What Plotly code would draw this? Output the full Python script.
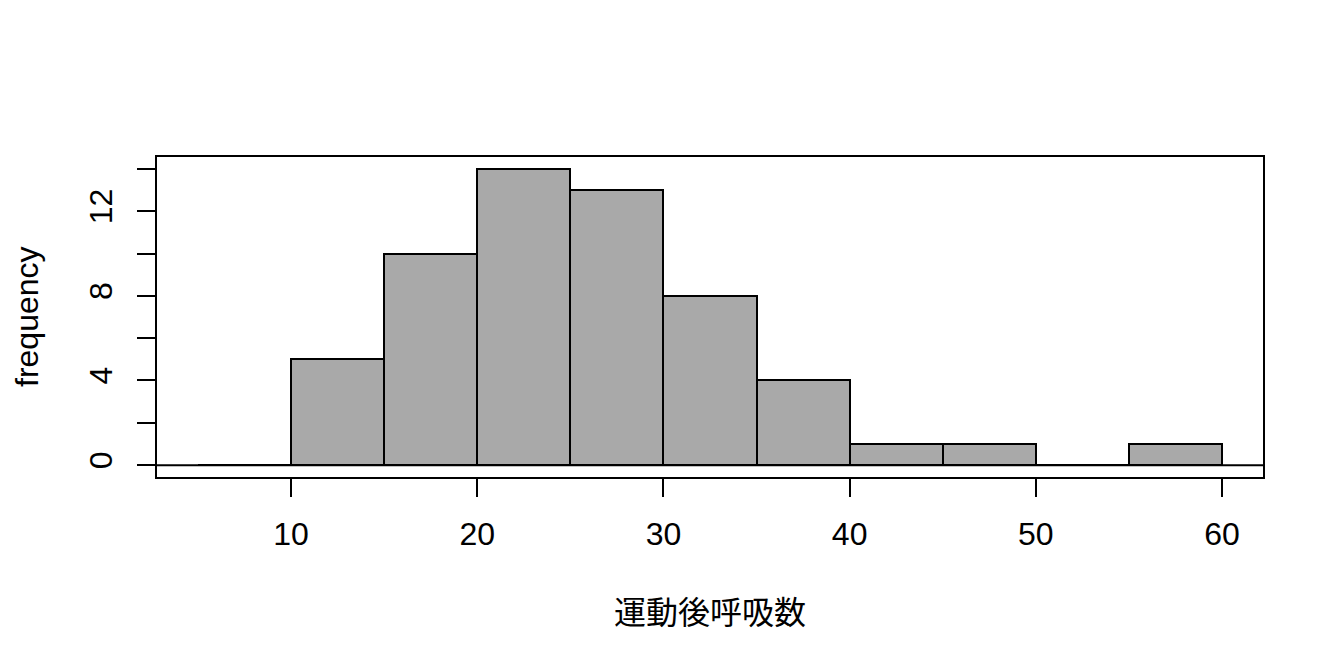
import plotly.graph_objects as go

bin_left = [5, 10, 15, 20, 25, 30, 35, 40, 45, 50, 55]
bin_width = 5
counts = [0, 5, 10, 14, 13, 8, 4, 1, 1, 0, 1]
x_ticks = [10, 20, 30, 40, 50, 60]
y_ticks = [0, 2, 4, 6, 8, 10, 12, 14]
y_ticktext = ["0", "", "4", "", "8", "", "12", ""]
x_title = "運動後呼吸数"
y_title = "frequency"

mids = [b + bin_width / 2 for b in bin_left]

# page body has an 8px margin; compensate
W, H = 1328, 656
L, R, T, B = 149, 73, 149, 187

fig = go.Figure()
fig.add_trace(go.Bar(
    x=mids, y=counts, width=[bin_width] * len(mids),
    marker=dict(color="#A9A9A9", line=dict(color="black", width=2)),
    showlegend=False, hoverinfo="skip",
))

font = dict(family="Liberation Sans, Arial, sans-serif", size=32, color="black")

fig.update_layout(
    width=W, height=H,
    margin=dict(l=L, r=R, t=T, b=B, pad=0),
    paper_bgcolor="white", plot_bgcolor="white",
    font=font,
    bargap=0,
    xaxis=dict(
        range=[2.8, 62.2], tickvals=x_ticks, ticktext=[str(v) for v in x_ticks],
        ticks="outside", ticklen=18, tickwidth=2, tickcolor="black",
        showline=True, linewidth=2, linecolor="black", mirror=True,
        showgrid=False, zeroline=False, tickfont=font, ticklabelstandoff=10,
    ),
    yaxis=dict(
        range=[-0.56, 14.56], tickvals=y_ticks, ticktext=y_ticktext,
        ticks="outside", ticklen=18, tickwidth=2, tickcolor="black",
        showline=True, linewidth=2, linecolor="black", mirror=True,
        showgrid=False, zeroline=False, tickangle=-90, tickfont=font,
        ticklabelstandoff=12,
    ),
    shapes=[dict(type="line", xref="paper", x0=0, x1=1, yref="y", y0=0, y1=0,
                 line=dict(color="black", width=2))],
    annotations=[
        dict(text=x_title, xref="paper", yref="paper", x=0.5, y=-(610 - 477) / (H - T - B),
             showarrow=False, xanchor="center", yanchor="middle",
             font=dict(family="Noto Sans CJK JP, sans-serif", size=32, color="black")),
        dict(text=y_title, xref="paper", yref="paper", x=-(157 - 27) / (W - L - R), y=0.5,
             showarrow=False, xanchor="center", yanchor="middle", textangle=-90,
             font=font),
    ],
)

fig.write_html("out.html")
